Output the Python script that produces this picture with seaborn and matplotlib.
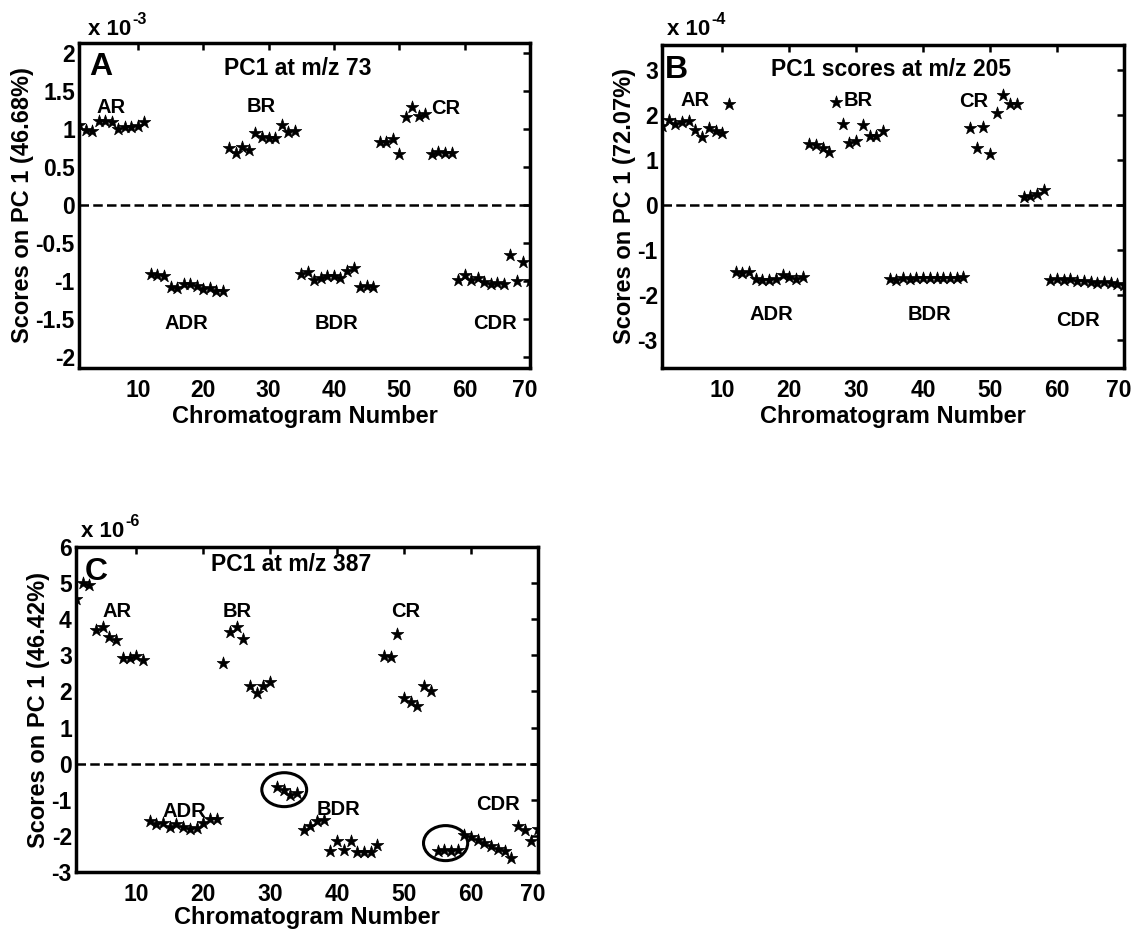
import matplotlib
matplotlib.use("Agg")
import matplotlib.pyplot as plt
from matplotlib.patches import Ellipse
import matplotlib.transforms as mtransforms
import numpy as np
import pandas as pd
import seaborn as sns

# ---------------- data ----------------
chromatogram = list(range(1, 71))
group_names = ["AR", "ADR", "BR", "BDR", "CR", "CDR"]

# Panel A: PC1 at m/z 73 (x 10^-3)
a_ar = [1.05, 0.98, 0.97, 1.10, 1.10, 1.09, 1.00, 1.03, 1.03, 1.04, 1.09]
a_adr = [-0.91, -0.92, -0.94, -1.08, -1.09, -1.04, -1.04, -1.07, -1.11, -1.09, -1.13, -1.13]
a_br = [0.75, 0.68, 0.76, 0.72, 0.95, 0.89, 0.88, 0.88, 1.05, 0.96, 0.97]
a_bdr = [-0.91, -0.89, -0.99, -0.96, -0.94, -0.94, -0.96, -0.87, -0.83, -1.08, -1.07, -1.08]
a_cr = [0.82, 0.82, 0.87, 0.67, 1.15, 1.29, 1.17, 1.20, 0.67, 0.69, 0.68, 0.68]
a_cdr = [-0.99, -0.92, -0.99, -0.97, -1.02, -1.05, -1.03, -1.04, -0.66, -1.00, -0.75, -1.00]

# Panel B: PC1 scores at m/z 205 (x 10^-4)
b_ar = [1.75, 1.90, 1.80, 1.85, 1.88, 1.68, 1.52, 1.72, 1.65, 1.60, 2.25]
b_adr = [-1.49, -1.50, -1.49, -1.65, -1.66, -1.66, -1.64, -1.56, -1.60, -1.64, -1.60]
b_br = [1.37, 1.33, 1.26, 1.18, 2.30, 1.80, 1.38, 1.42, 1.78, 1.53, 1.53, 1.65]
b_bdr = [-1.65, -1.66, -1.63, -1.65, -1.62, -1.63, -1.61, -1.63, -1.62, -1.61, -1.62, -1.60]
b_cr = [1.72, 1.27, 1.73, 1.13, 2.04, 2.45, 2.25, 2.25, 0.18, 0.20, 0.24, 0.33]
b_cdr = [-1.66, -1.65, -1.67, -1.65, -1.68, -1.69, -1.70, -1.73, -1.70, -1.74, -1.76, -1.78]

# Panel C: PC1 at m/z 387 (x 10^-6)
c_ar = [4.55, 5.00, 4.95, 3.70, 3.78, 3.50, 3.42, 2.92, 2.93, 2.97, 2.87]
c_adr = [-1.58, -1.66, -1.64, -1.74, -1.68, -1.76, -1.82, -1.78, -1.64, -1.52, -1.52]
c_br = [2.80, 3.65, 3.78, 3.45, 2.15, 1.95, 2.15, 2.25, -0.65, -0.72, -0.88, -0.80]
c_bdr = [-1.85, -1.72, -1.60, -1.55, -2.42, -2.15, -2.38, -2.15, -2.45, -2.45, -2.45, -2.25]
c_cr = [2.98, 2.95, 3.58, 1.82, 1.72, 1.60, 2.15, 2.00, -2.42, -2.38, -2.42, -2.38]
c_cdr = [-1.97, -2.02, -2.12, -2.20, -2.28, -2.35, -2.42, -2.60, -1.72, -1.85, -2.15, -1.82]

# circled outliers in panel C: (center chromatogram, center score, width, height)
c_circles = [(32.1, -0.72, 6.7, 0.94), (56.2, -2.20, 6.6, 0.97)]

a_scores = a_ar + a_adr + a_br + a_bdr + a_cr + a_cdr
b_scores = b_ar + b_adr + b_br + b_bdr + b_cr + b_cdr
c_scores = c_ar + c_adr + c_br + c_bdr + c_cr + c_cdr

x_ticks = [10, 20, 30, 40, 50, 60, 70]
a_yticks = [-2, -1.5, -1, -0.5, 0, 0.5, 1, 1.5, 2]
b_yticks = [-3, -2, -1, 0, 1, 2, 3]
c_yticks = [-3, -2, -1, 0, 1, 2, 3, 4, 5, 6]

# ---------------- style ----------------
sns.set_style("white")
plt.rcParams["font.family"] = ["Liberation Sans", "DejaVu Sans"]
plt.rcParams["font.weight"] = "bold"
plt.rcParams["text.color"] = "black"
plt.rcParams["axes.labelcolor"] = "black"
plt.rcParams["xtick.color"] = "black"
plt.rcParams["ytick.color"] = "black"
plt.rcParams["axes.unicode_minus"] = False

fig = plt.figure(figsize=(11.34, 9.33), dpi=100)
W, H = 1134, 933


def add_ax(left, top, right, bottom):
    return fig.add_axes([left / W, (H - bottom) / H, (right - left) / W, (bottom - top) / H])


axA = add_ax(79, 43, 530, 368)
axB = add_ax(662, 45, 1124, 368)
axC = add_ax(76, 547, 538, 872)


def draw(ax, scores, ylim, yticks, ylabel, exponent, letter, title, title_pos,
         letter_pos, labels_pos, exp_pos, xpad, xlabelpad):
    df = pd.DataFrame({"Chromatogram": chromatogram, "Score": scores})
    ax.axhline(0, color="black", lw=1.8, ls=(0, (3.8, 1.7)), zorder=1)
    sns.scatterplot(data=df, x="Chromatogram", y="Score", marker="*", s=90,
                    color="black", edgecolor="black", linewidth=0.5, ax=ax, zorder=3)
    ax.set_xlim(1, 70)
    ax.set_ylim(*ylim)
    ax.set_xticks(x_ticks)
    ax.set_xticklabels([str(t) for t in x_ticks])
    ax.set_yticks(yticks)
    ax.set_yticklabels([f"{t:g}" for t in yticks])
    for s in ax.spines.values():
        s.set_linewidth(2.5)
        s.set_color("black")
    ax.tick_params(axis="both", direction="in", length=5, width=1.8, top=True,
                   right=True, labelsize=16.5, colors="black")
    ax.tick_params(axis="x", pad=xpad)
    ax.tick_params(axis="y", pad=3)
    for lab in ax.get_xticklabels() + ax.get_yticklabels():
        lab.set_fontweight("bold")
        lab.set_color("black")
    # the last x tick label sits a little left of the right spine, as in the original
    last = ax.get_xticklabels()[-1]
    last.set_transform(last.get_transform() + mtransforms.ScaledTranslation(-5 / 100, 0, fig.dpi_scale_trans))
    ax.set_xlabel("Chromatogram Number", fontsize=17, fontweight="bold", labelpad=xlabelpad, color="black")
    ax.set_ylabel(ylabel, fontsize=17, fontweight="bold", labelpad=1, color="black")
    base = ax.text(exp_pos[0], exp_pos[1], "x 10", transform=ax.transAxes,
                   fontsize=16, fontweight="bold", ha="left", va="baseline", color="black")
    ax.annotate(str(exponent), xy=(1.0, 0.62), xycoords=base, xytext=(1, 0),
                textcoords="offset points", fontsize=11.5, fontweight="bold",
                ha="left", va="bottom", color="black", annotation_clip=False)
    ax.text(letter_pos[0], letter_pos[1], letter, transform=ax.transAxes,
            fontsize=23, fontweight="bold", ha="left", va="center", zorder=4, color="black")
    ax.text(title_pos[0], title_pos[1], title, transform=ax.transAxes,
            fontsize=16.5, fontweight="bold", ha="center", va="center", color="black")
    for name, (lx, ly) in zip(group_names, labels_pos):
        ax.text(lx, ly, name, fontsize=14.5, fontweight="bold", ha="center", va="center", color="black")


draw(axA, a_scores, (-2.15, 2.13), a_yticks, "Scores on PC 1 (46.68%)", -3, "A",
     "PC1 at m/z 73", (0.486, 0.923), (0.022, 0.925),
     [(5.9, 1.28), (17.5, -1.57), (28.9, 1.29), (40.4, -1.57), (57.1, 1.27), (64.6, -1.57)],
     (0.02, 1.025), 8, 2)

draw(axB, b_scores, (-3.62, 3.56), b_yticks, "Scores on PC 1 (72.07%)", -4, "B",
     "PC1 scores at m/z 205", (0.496, 0.923), (0.006, 0.923),
     [(5.9, 2.33), (17.3, -2.44), (30.3, 2.33), (41.0, -2.44), (47.6, 2.30), (63.1, -2.56)],
     (0.011, 1.031), 8, 2)

draw(axC, c_scores, (-3, 6), c_yticks, "Scores on PC 1 (46.42%)", -6, "C",
     "PC1 at m/z 387", (0.465, 0.945), (0.019, 0.923),
     [(7.1, 4.21), (17.2, -1.33), (25.1, 4.21), (40.2, -1.27), (50.2, 4.21), (64.0, -1.14)],
     (0.01, 1.03), 8, 0)

for cx, cy, w, h in c_circles:
    axC.add_patch(Ellipse((cx, cy), w, h, fill=False, edgecolor="black", lw=2.2, zorder=4))

fig.savefig("out.png", dpi=100)
